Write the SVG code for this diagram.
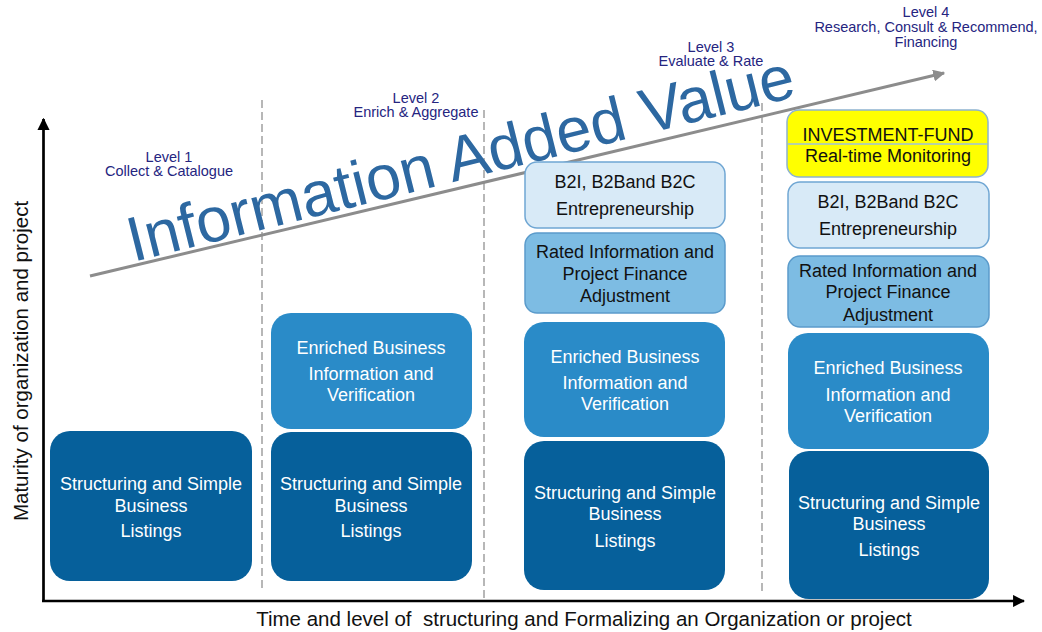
<svg xmlns="http://www.w3.org/2000/svg" width="1042" height="632" viewBox="0 0 1042 632">
<defs>
<style>
text{font-family:"Liberation Sans",Arial,sans-serif;text-anchor:middle}
.lvl{font-size:14.5px;fill:#25257F}
.w{font-size:18px;fill:#ffffff}
.k{font-size:18px;fill:#111111}
.ax{font-size:20.5px;fill:#111111}
.dark{fill:#06609B}
.med{fill:#2A8BC8}
.rated{fill:#7DBCE3;stroke:#5B9BCB;stroke-width:1.5}
.light{fill:#D8EAF7;stroke:#6FA6D3;stroke-width:1.5}
.dash{stroke:#A0A0A0;stroke-width:1.5;stroke-dasharray:8 4;fill:none}
</style>
<marker id="blk" viewBox="0 0 10 10" refX="9" refY="5" markerWidth="4.5" markerHeight="4.5" markerUnits="strokeWidth" orient="auto">
<path d="M0,0 L10,5 L0,10 z" fill="#000"/>
</marker>
<marker id="gry" viewBox="0 0 10 10" refX="9" refY="5" markerWidth="4" markerHeight="4" markerUnits="strokeWidth" orient="auto">
<path d="M0,0 L10,5 L0,10 z" fill="#8C8C8C"/>
</marker>
</defs>
<rect width="1042" height="632" fill="#ffffff"/>

<g id="connectors">
<line class="dash" x1="262" y1="100" x2="262" y2="590"/>
<line class="dash" x1="484" y1="110" x2="484" y2="598"/>
<line class="dash" x1="762" y1="103" x2="762" y2="592"/>
<line x1="43.5" y1="602" x2="43.5" y2="119" stroke="#000" stroke-width="2.7" marker-end="url(#blk)"/>
<line x1="42" y1="601" x2="1024" y2="601" stroke="#000" stroke-width="2.7" marker-end="url(#blk)"/>
<line x1="90" y1="276" x2="944" y2="73" stroke="#8C8C8C" stroke-width="3" marker-end="url(#gry)"/>
</g>

<g id="title">
<text x="133" y="262" transform="rotate(-14 133 262)" style="font-size:63px;fill:#2D68A1;text-anchor:start">Information Added Value</text>
</g>

<g id="levels">
<text class="lvl" x="169" y="162">Level 1</text>
<text class="lvl" x="169" y="176">Collect &amp; Catalogue</text>
<text class="lvl" x="416" y="103">Level 2</text>
<text class="lvl" x="416" y="117">Enrich &amp; Aggregate</text>
<text class="lvl" x="711" y="52">Level 3</text>
<text class="lvl" x="711" y="66">Evaluate &amp; Rate</text>
<text class="lvl" x="926" y="17">Level 4</text>
<text class="lvl" x="926" y="32">Research, Consult &amp; Recommend,</text>
<text class="lvl" x="926" y="47">Financing</text>
</g>

<g id="axis-labels">
<text class="ax" x="0" y="0" transform="translate(28 361) rotate(-90)">Maturity of organization and project</text>
<text class="ax" x="584" y="626" xml:space="preserve">Time and level of  structuring and Formalizing an Organization or project</text>
</g>

<g id="c1-structuring">
<rect class="dark" x="50" y="431" width="202" height="150" rx="20"/>
<text class="w" x="151" y="490">Structuring and Simple</text>
<text class="w" x="151" y="512">Business</text>
<text class="w" x="151" y="537">Listings</text>
</g>

<g id="c2-enriched">
<rect class="med" x="271" y="313" width="201" height="116" rx="20"/>
<text class="w" x="371" y="354">Enriched Business</text>
<text class="w" x="371" y="380">Information and</text>
<text class="w" x="371" y="401">Verification</text>
</g>
<g id="c2-structuring">
<rect class="dark" x="271" y="432" width="201" height="149" rx="20"/>
<text class="w" x="371" y="490">Structuring and Simple</text>
<text class="w" x="371" y="512">Business</text>
<text class="w" x="371" y="537">Listings</text>
</g>

<g id="c3-b2i">
<rect class="light" x="525" y="162" width="200" height="66" rx="12"/>
<text class="k" x="625" y="188">B2I, B2Band B2C</text>
<text class="k" x="625" y="215">Entrepreneurship</text>
</g>
<g id="c3-rated">
<rect class="rated" x="525" y="233" width="200" height="80" rx="12"/>
<text class="k" x="625" y="258">Rated Information and</text>
<text class="k" x="625" y="280">Project Finance</text>
<text class="k" x="625" y="302">Adjustment</text>
</g>
<g id="c3-enriched">
<rect class="med" x="524" y="322" width="201" height="115" rx="20"/>
<text class="w" x="625" y="363">Enriched Business</text>
<text class="w" x="625" y="389">Information and</text>
<text class="w" x="625" y="410">Verification</text>
</g>
<g id="c3-structuring">
<rect class="dark" x="524" y="441" width="201" height="149" rx="20"/>
<text class="w" x="625" y="499">Structuring and Simple</text>
<text class="w" x="625" y="520">Business</text>
<text class="w" x="625" y="547">Listings</text>
</g>

<g id="c4-investment">
<rect x="787" y="110" width="201" height="67" rx="12" fill="#FFFF00" stroke="#8DB3D0" stroke-width="1.5"/>
<line x1="788" y1="144" x2="987" y2="144" stroke="#9CC3DE" stroke-width="1.5"/>
<text class="k" x="888" y="141">INVESTMENT-FUND</text>
<text class="k" x="888" y="162">Real-time Monitoring</text>
</g>
<g id="c4-b2i">
<rect class="light" x="788" y="182" width="201" height="66" rx="12"/>
<text class="k" x="888" y="208">B2I, B2Band B2C</text>
<text class="k" x="888" y="235">Entrepreneurship</text>
</g>
<g id="c4-rated">
<rect class="rated" x="788" y="256" width="201" height="71" rx="12"/>
<text class="k" x="888" y="277">Rated Information and</text>
<text class="k" x="888" y="298">Project Finance</text>
<text class="k" x="888" y="321">Adjustment</text>
</g>
<g id="c4-enriched">
<rect class="med" x="788" y="333" width="201" height="116" rx="20"/>
<text class="w" x="888" y="374">Enriched Business</text>
<text class="w" x="888" y="401">Information and</text>
<text class="w" x="888" y="422">Verification</text>
</g>
<g id="c4-structuring">
<rect class="dark" x="789" y="451" width="200" height="148" rx="20"/>
<text class="w" x="889" y="509">Structuring and Simple</text>
<text class="w" x="889" y="530">Business</text>
<text class="w" x="889" y="556">Listings</text>
</g>
</svg>
